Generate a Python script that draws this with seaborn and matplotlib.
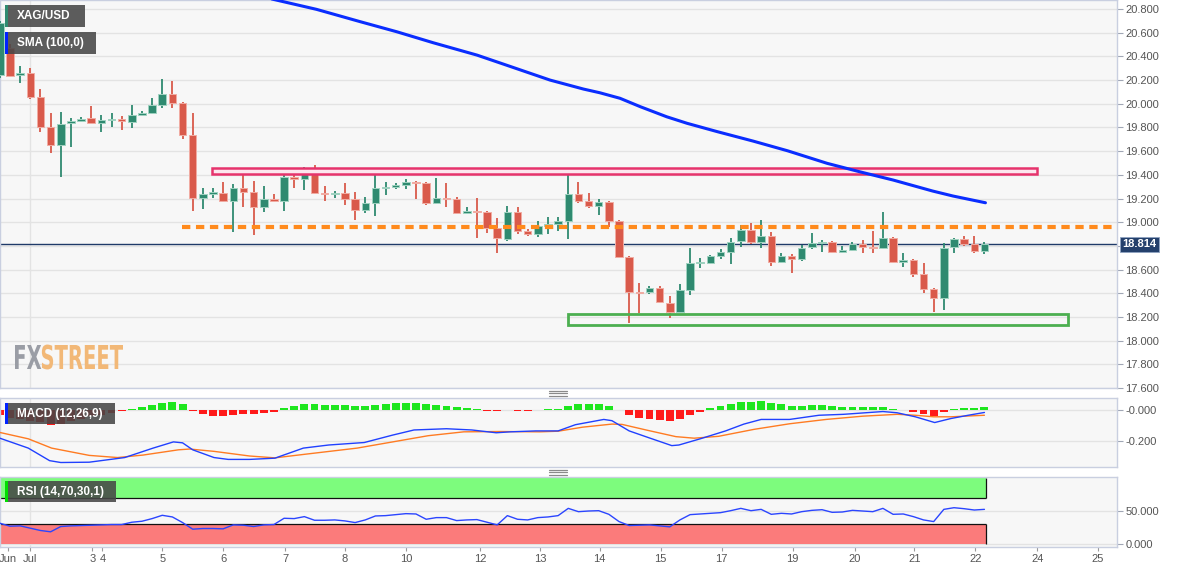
import numpy as np
import matplotlib
matplotlib.use("Agg")
import matplotlib.pyplot as plt
import seaborn as sns
from matplotlib.patches import Rectangle, PathPatch
from matplotlib.lines import Line2D
from matplotlib.textpath import TextPath
from matplotlib.font_manager import FontProperties
from matplotlib.transforms import Affine2D, blended_transform_factory

# ---------------- data (4-hour candles, index -1 .. 96) ----------------
candle_x = list(range(-1, 97))
open_ = [20.240, 20.471, 20.243, 20.259, 20.057, 19.803, 19.651, 19.837, 19.854, 19.879,
         19.837, 19.862, 19.871, 19.846, 19.905, 19.922, 19.989, 20.082, 20.006, 19.736,
         19.204, 19.242, 19.246, 19.178, 19.288, 19.254, 19.128, 19.195, 19.178, 19.381,
         19.364, 19.415, 19.246, 19.237, 19.246, 19.195, 19.102, 19.161, 19.288, 19.297,
         19.313, 19.339, 19.330, 19.161, 19.204, 19.195, 19.077, 19.094, 19.085, 18.950,
         18.857, 19.085, 18.925, 18.900, 18.967, 18.984, 19.009, 19.237, 19.178, 19.136,
         19.170, 19.009, 18.705, 18.410, 18.410, 18.444, 18.317, 18.241, 18.427, 18.655,
         18.655, 18.714, 18.748, 18.841, 18.933, 18.832, 18.883, 18.663, 18.714, 18.688,
         18.790, 18.824, 18.832, 18.748, 18.764, 18.815, 18.790, 18.781, 18.866, 18.663,
         18.680, 18.562, 18.435, 18.359, 18.790, 18.857, 18.815, 18.756]
high = [20.700, 20.504, 20.319, 20.302, 20.124, 19.922, 19.930, 19.879, 19.888, 19.981,
        19.905, 19.922, 19.896, 19.989, 19.938, 20.048, 20.209, 20.192, 20.015, 19.922,
        19.288, 19.288, 19.339, 19.322, 19.406, 19.347, 19.305, 19.237, 19.423, 19.432,
        19.466, 19.482, 19.305, 19.263, 19.330, 19.254, 19.212, 19.449, 19.339, 19.330,
        19.364, 19.347, 19.339, 19.373, 19.330, 19.212, 19.128, 19.204, 19.094, 19.035,
        19.136, 19.128, 18.942, 19.009, 19.043, 19.043, 19.406, 19.339, 19.246, 19.195,
        19.178, 19.018, 18.714, 18.486, 18.460, 18.460, 18.376, 18.477, 18.781, 18.697,
        18.722, 18.773, 18.866, 18.976, 18.993, 19.018, 18.917, 18.739, 18.731, 18.807,
        18.908, 18.849, 18.841, 18.798, 18.832, 18.849, 18.925, 19.085, 18.874, 18.739,
        18.688, 18.655, 18.444, 18.824, 18.866, 18.883, 18.883, 18.832]
low = [20.220, 20.226, 20.175, 20.040, 19.761, 19.584, 19.381, 19.634, 19.846, 19.837,
       19.761, 19.803, 19.778, 19.795, 19.896, 19.913, 19.964, 19.964, 19.702, 19.094,
       19.111, 19.204, 19.170, 18.917, 19.128, 18.891, 19.085, 19.170, 19.094, 19.288,
       19.271, 19.237, 19.178, 19.204, 19.145, 19.018, 19.077, 19.052, 19.229, 19.280,
       19.280, 19.195, 19.145, 19.153, 19.128, 19.069, 19.069, 18.866, 18.908, 18.739,
       18.841, 18.900, 18.883, 18.874, 18.900, 18.925, 18.857, 19.161, 19.119, 19.060,
       18.959, 18.697, 18.148, 18.232, 18.393, 18.317, 18.190, 18.232, 18.384, 18.612,
       18.646, 18.688, 18.646, 18.790, 18.815, 18.781, 18.629, 18.655, 18.570, 18.672,
       18.773, 18.748, 18.739, 18.739, 18.756, 18.739, 18.739, 18.773, 18.655, 18.621,
       18.536, 18.401, 18.241, 18.258, 18.739, 18.798, 18.739, 18.731]
close = [20.680, 20.234, 20.259, 20.057, 19.803, 19.651, 19.829, 19.854, 19.871, 19.837,
         19.862, 19.866, 19.854, 19.905, 19.922, 19.989, 20.082, 20.006, 19.736, 19.204,
         19.237, 19.246, 19.178, 19.288, 19.254, 19.128, 19.195, 19.178, 19.381, 19.364,
         19.415, 19.246, 19.237, 19.246, 19.195, 19.102, 19.161, 19.288, 19.297, 19.313,
         19.339, 19.330, 19.161, 19.204, 19.195, 19.077, 19.094, 19.085, 18.950, 18.866,
         19.085, 18.925, 18.900, 18.967, 18.984, 19.009, 19.237, 19.178, 19.136, 19.170,
         19.009, 18.705, 18.410, 18.401, 18.444, 18.325, 18.241, 18.427, 18.655, 18.663,
         18.714, 18.748, 18.832, 18.933, 18.832, 18.883, 18.663, 18.714, 18.688, 18.781,
         18.824, 18.832, 18.748, 18.764, 18.815, 18.790, 18.781, 18.866, 18.663, 18.680,
         18.562, 18.435, 18.359, 18.781, 18.857, 18.815, 18.756, 18.814]

sma_x = [24, 30.2, 34.5, 38.1, 41.7, 46.0, 48.6, 53.2, 56.5, 58.1, 60.1, 62.1,
         64.7, 66.7, 69.7, 73.2, 76.6, 80.5, 83.7, 87.0, 90.9, 92.9, 96.1]
sma_v = [20.920, 20.797, 20.693, 20.608, 20.515, 20.411, 20.335, 20.200, 20.124, 20.093,
         20.046, 19.975, 19.890, 19.835, 19.764, 19.685, 19.603, 19.497, 19.426, 19.356,
         19.263, 19.221, 19.164]

macd_hist = [-0.034, -0.05, -0.06, -0.07, -0.08, -0.095, -0.09, -0.07, -0.055, -0.04,
             -0.03, -0.02, -0.005, 0.006, 0.02, 0.032, 0.046, 0.05, 0.036, -0.008,
             -0.024, -0.038, -0.038, -0.03, -0.028, -0.026, -0.018, -0.01, 0.01, 0.024,
             0.036, 0.036, 0.034, 0.032, 0.03, 0.026, 0.024, 0.034, 0.04, 0.046,
             0.048, 0.046, 0.036, 0.03, 0.026, 0.018, 0.012, 0.006, -0.004, -0.008,
             0.002, -0.004, -0.004, -0.002, 0.004, 0.008, 0.026, 0.036, 0.036, 0.036,
             0.026, 0.002, -0.03, -0.05, -0.058, -0.065, -0.069, -0.057, -0.03, -0.01,
             0.01, 0.026, 0.04, 0.052, 0.054, 0.056, 0.042, 0.036, 0.028, 0.028,
             0.032, 0.032, 0.026, 0.022, 0.022, 0.022, 0.018, 0.022, 0.008, 0.002,
             -0.01, -0.024, -0.036, -0.012, 0.004, 0.014, 0.014, 0.02]
macd_x = [-1, 1.8, 3.9, 5, 7.8, 11.3, 14.1, 16.1, 17, 18, 20.1, 21.5, 23.6, 26.1, 28.9,
          31.4, 34.9, 37.7, 39.8, 43, 45.5, 47.9, 49.3, 51.8, 54, 55.7, 58.5, 59.3, 61,
          62.8, 65.2, 65.9, 68, 70.5, 72.3, 74, 76.8, 79.7, 82.1, 86, 87.4, 89.2, 91.1,
          92.7, 94.4, 96]
macd_v = [-0.182, -0.246, -0.327, -0.339, -0.337, -0.307, -0.246, -0.206, -0.212, -0.257,
          -0.307, -0.319, -0.319, -0.311, -0.246, -0.226, -0.210, -0.162, -0.129, -0.121,
          -0.129, -0.147, -0.141, -0.135, -0.135, -0.095, -0.061, -0.069, -0.135, -0.176,
          -0.230, -0.226, -0.186, -0.135, -0.091, -0.061, -0.061, -0.034, -0.028, -0.010,
          -0.018, -0.044, -0.081, -0.055, -0.034, -0.016]
signal_x = [-1, 1.8, 4.1, 7.8, 10.6, 13.1, 16.6, 17.7, 20.1, 23.6, 26.1, 28.9, 34.2, 37.7,
            41.2, 44.7, 48.3, 52.2, 54, 56.4, 59.3, 60.3, 62.8, 65.6, 67.4, 69.8, 73.3,
            76.8, 80.4, 84, 87.4, 89.2, 91, 92.7, 96]
signal_v = [-0.145, -0.186, -0.246, -0.293, -0.307, -0.291, -0.257, -0.252, -0.267, -0.297,
            -0.309, -0.287, -0.246, -0.206, -0.166, -0.141, -0.139, -0.141, -0.137, -0.111,
            -0.091, -0.093, -0.131, -0.172, -0.182, -0.170, -0.125, -0.089, -0.061, -0.040,
            -0.028, -0.034, -0.044, -0.044, -0.034]

rsi = [31.5, 27, 27.5, 24, 20.5, 18.5, 26.5, 27.5, 28, 28.5, 29, 29.5, 29.5, 33, 34.5,
       38.5, 43.5, 41, 32.5, 22.5, 23.5, 23.5, 23, 29, 28.5, 26.5, 29, 29.5, 39, 38.5,
       41.5, 36, 36, 36.5, 35, 32.5, 36.5, 42.5, 43, 44.5, 46, 45.5, 37.5, 40, 40, 35.5,
       36.5, 37, 33, 29, 43, 37.5, 36.5, 40, 41, 43, 54, 49, 50, 50.5, 45, 34, 28, 28.5,
       29, 27.5, 26, 36.5, 44.5, 45.5, 46.5, 47.5, 50.5, 54, 50.5, 52.5, 45, 46.5, 45.5,
       49, 51, 52, 48, 48.5, 51, 50, 49, 54, 45, 45.5, 41.5, 36.5, 34, 52.5, 55, 53.5,
       51.5, 52.5]

last_price = 18.814
resistance_zone = (19.405, 19.455)
resistance_span = (19.9, 101.2)
support_zone = (18.131, 18.224)
support_span = (55.0, 104.2)
dotted_level = 18.96
dotted_start = 16.9

price_ticks = [17.6, 17.8, 18.0, 18.2, 18.4, 18.6, 18.8, 19.0, 19.2, 19.4, 19.6, 19.8,
               20.0, 20.2, 20.4, 20.6, 20.8]
macd_ticks = [-0.2, 0.0]
macd_tick_labels = ["-0.200", "-0.000"]
rsi_ticks = [0, 50]
rsi_tick_labels = ["0.000", "50.000"]
day_tick_pos = [-0.2, 2.0, 8.1, 9.1, 15.0, 21.0, 27.1, 33.0, 39.0, 46.3, 52.2, 58.1,
                64.1, 70.1, 77.1, 83.2, 89.1, 95.1, 101.2, 107.2]
day_tick_labels = ["Jun", "Jul", "3", "4", "5", "6", "7", "8", "10", "12", "13", "14",
                   "15", "17", "19", "20", "21", "22", "24", "25"]

# ---------------- style ----------------
sns.set_theme(style="white")
plt.rcParams["font.family"] = ["Liberation Sans", "DejaVu Sans"]

GREEN = "#2f8a70"
RED = "#d95a4b"
GREEN_EDGE = "#9fd2c0"
RED_EDGE = "#f1aca3"

W, H = 1182, 571
fig = plt.figure(figsize=(W / 100, H / 100), dpi=100)
fig.patch.set_facecolor("white")


def rect(x0, y0, x1, y1):
    return [x0 / W, 1 - y1 / H, (x1 - x0) / W, (y1 - y0) / H]


ax_p = fig.add_axes(rect(0, 0, 1117, 388))
ax_m = fig.add_axes(rect(0, 398, 1117, 467))
ax_r = fig.add_axes(rect(0, 477, 1117, 547))

XLIM = (-0.985, 109.06)
for ax in (ax_p, ax_m, ax_r):
    ax.set_facecolor("#f7f7f7")
    ax.set_xlim(*XLIM)
    for s in ax.spines.values():
        s.set_color("#c9cfe0")
        s.set_linewidth(1)
    ax.yaxis.tick_right()
    ax.tick_params(axis="y", right=True, left=False, length=4, width=0.8,
                   color="#a0a6b5", labelsize=8, labelcolor="#555555", pad=2)
    ax.tick_params(axis="x", bottom=False, labelbottom=False)
    ax.grid(axis="y", color="#e3e3e3", linewidth=1)
    ax.set_axisbelow(True)
    ax.axvline(day_tick_pos[1], color="#e3e3e3", lw=1, zorder=0)

# ---------------- price panel ----------------
o = np.array(open_)
h = np.array(high)
l = np.array(low)
c = np.array(close)
up = c >= o
cols = np.where(up, GREEN, RED)
edges = np.where(up, GREEN_EDGE, RED_EDGE)

ax_p.axhline(last_price, color="#1f3a68", lw=1, zorder=2)
ax_p.vlines(candle_x, l, h, colors=cols, linewidth=1.3, zorder=3)
ax_p.bar(candle_x, np.maximum(np.abs(c - o), 0.012), bottom=np.minimum(o, c),
         width=0.74, color=cols, edgecolor=edges, linewidth=0.7, zorder=4)

ax_p.hlines(dotted_level, dotted_start, XLIM[1], colors="#ff8a1c", linewidth=3,
            linestyles=(0, (2.0, 1.35)), zorder=5)

ax_p.add_patch(Rectangle((resistance_span[0], resistance_zone[0]),
                         resistance_span[1] - resistance_span[0],
                         resistance_zone[1] - resistance_zone[0],
                         facecolor="#fce6ee", edgecolor="#e6336c", linewidth=1.8, zorder=6))
ax_p.add_patch(Rectangle((support_span[0], support_zone[0]),
                         support_span[1] - support_span[0],
                         support_zone[1] - support_zone[0],
                         facecolor="none", edgecolor="#4caf50", linewidth=2, zorder=6))

sns.lineplot(x=sma_x, y=sma_v, ax=ax_p, color="#0a2dff", linewidth=2.2,
             estimator=None, sort=False, zorder=7)

ax_p.set_ylim(17.6, 20.876)
ax_p.set_yticks(price_ticks)
# the last-price tag covers the 18.800 label, as in the reference
ax_p.set_yticklabels(["" if abs(t - last_price) < 0.1 else f"{t:.3f}" for t in price_ticks])
ax_p.set_xlabel("")
ax_p.set_ylabel("")

tr = blended_transform_factory(ax_p.transAxes, ax_p.transData)
ax_p.text(1.0045, last_price, f"{last_price:.3f}", transform=tr, ha="left", va="center",
          color="white", fontsize=8, fontweight="bold", clip_on=False, zorder=10,
          bbox=dict(boxstyle="square,pad=0.22", fc="#24406c", ec="#8fa3c2", lw=0.6))

# ---------------- MACD panel ----------------
hist = np.array(macd_hist)
ax_m.bar(candle_x, hist, width=0.78, color=np.where(hist >= 0, "#1ee61e", "#ff1a1a"),
         linewidth=0, zorder=2)
sns.lineplot(x=signal_x, y=signal_v, ax=ax_m, color="#ff7b22", linewidth=1.0,
             estimator=None, sort=False, zorder=3)
sns.lineplot(x=macd_x, y=macd_v, ax=ax_m, color="#2040ff", linewidth=1.0,
             estimator=None, sort=False, zorder=4)
ax_m.set_ylim(-0.368, 0.0774)
ax_m.set_yticks(macd_ticks)
ax_m.set_yticklabels(macd_tick_labels)
ax_m.set_xlim(*XLIM)
ax_m.set_xlabel("")
ax_m.set_ylabel("")

# ---------------- RSI panel ----------------
band_end = 96.2
ax_r.add_patch(Rectangle((XLIM[0], 70), band_end - XLIM[0], 30, facecolor="#7dfc7d",
                         edgecolor="none", zorder=1))
ax_r.add_patch(Rectangle((XLIM[0], 0), band_end - XLIM[0], 30, facecolor="#fb7b7b",
                         edgecolor="none", zorder=1))
ax_r.hlines([70, 30], XLIM[0], band_end, colors="#111111", linewidth=0.9, zorder=2)
ax_r.vlines([band_end, band_end], [70, 0], [100, 30], colors="#111111", linewidth=0.9, zorder=2)
sns.lineplot(x=candle_x, y=rsi, ax=ax_r, color="#2b45ff", linewidth=1.0,
             estimator=None, sort=False, zorder=3)
ax_r.set_ylim(-4.5, 101.5)
ax_r.set_yticks(rsi_ticks)
ax_r.set_yticklabels(rsi_tick_labels)
ax_r.set_xlim(*XLIM)
ax_r.set_xlabel("")
ax_r.set_ylabel("")
ax_r.set_xticks(day_tick_pos)
ax_r.set_xticklabels(day_tick_labels)
ax_r.tick_params(axis="x", bottom=True, labelbottom=True, length=3, width=0.8,
                 color="#9a9a9a", labelsize=8, labelcolor="#555555", pad=2)

# ---------------- overlays: indicator labels ----------------
def label_box(x0, y0, x1, y1, text, strip):
    fig.patches.append(Rectangle((x0 / W, 1 - y1 / H), (x1 - x0) / W, (y1 - y0) / H,
                                 transform=fig.transFigure, facecolor="#474747",
                                 alpha=0.88, edgecolor="none", zorder=20))
    fig.patches.append(Rectangle((x0 / W, 1 - y1 / H), 3 / W, (y1 - y0) / H,
                                 transform=fig.transFigure, facecolor=strip,
                                 edgecolor="none", zorder=21))
    fig.text((x0 + 12) / W, 1 - ((y0 + y1) / 2) / H, text, ha="left", va="center",
             color="white", fontsize=8.5, fontweight="bold", zorder=22)


label_box(5, 5, 85, 27, "XAG/USD", GREEN)
label_box(5, 32, 96, 54, "SMA (100,0)", "#0022ff")
label_box(5, 403, 115, 424, "MACD (12,26,9)", "#0022ff")
label_box(5, 481, 116, 502, "RSI (14,70,30,1)", "#00dd00")

# pane dividers
for yy in (390.5, 393, 395.5, 469.5, 472, 474.5):
    fig.lines.append(Line2D([549 / W, 567 / W], [1 - yy / H, 1 - yy / H],
                            transform=fig.transFigure, color="#8a8a8a", lw=0.9))

# watermark
fp = FontProperties(family="DejaVu Sans", weight="bold")
tp1 = TextPath((0, 0), "FX", size=1, prop=fp)
tp2 = TextPath((0, 0), "STREET", size=1, prop=fp)
e1 = tp1.get_extents()
e2 = tp2.get_extents()
gap = 0.03
sy = 24 / e1.y1
sx = 108 / (e1.width + e2.width + gap)
t1 = Affine2D().translate(-e1.x0, 0).scale(sx, sy).translate(15, H - 369)
t2 = Affine2D().translate(-e2.x0 + e1.width + gap, 0).scale(sx, sy).translate(15, H - 369)
fig.patches.append(PathPatch(tp1, transform=t1, facecolor="#9a9da5", edgecolor="none", zorder=5))
fig.patches.append(PathPatch(tp2, transform=t2, facecolor="#f2b877", edgecolor="none", zorder=5))

fig.savefig("out.png", dpi=100, facecolor="white")
